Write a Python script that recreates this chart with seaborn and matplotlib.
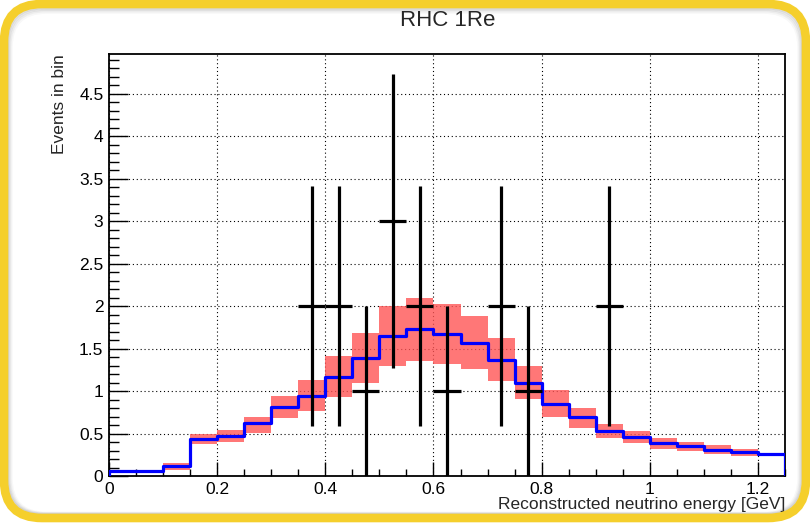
import numpy as np
import pandas as pd
import seaborn as sns
import matplotlib
matplotlib.use("Agg")
import matplotlib.pyplot as plt
from matplotlib.patches import FancyBboxPatch
from matplotlib.transforms import IdentityTransform
from matplotlib.ticker import MultipleLocator, FuncFormatter

# Binning: 25 bins of 0.05 GeV from 0 to 1.25 GeV
bin_edges = [round(0.05 * i, 3) for i in range(26)]
bin_centers = [round((a + b) / 2, 4) for a, b in zip(bin_edges[:-1], bin_edges[1:])]

# Predicted events per bin (blue histogram)
mc_pred = [0.055, 0.055, 0.12, 0.44, 0.47, 0.62, 0.81, 0.94, 1.17, 1.39,
           1.65, 1.73, 1.67, 1.57, 1.37, 1.10, 0.85, 0.69, 0.525, 0.46,
           0.385, 0.35, 0.31, 0.28, 0.255]
# Systematic uncertainty band (lower / upper edge per bin)
band_lo = [0.045, 0.045, 0.067, 0.38, 0.396, 0.51, 0.68, 0.765, 0.93, 1.09,
           1.29, 1.36, 1.32, 1.26, 1.12, 0.91, 0.69, 0.565, 0.447, 0.39,
           0.318, 0.294, 0.26, 0.235, 0.23]
band_hi = [0.065, 0.065, 0.153, 0.49, 0.545, 0.70, 0.94, 1.125, 1.41, 1.69,
           2.00, 2.10, 2.02, 1.88, 1.63, 1.29, 1.01, 0.80, 0.615, 0.53,
           0.443, 0.396, 0.36, 0.32, 0.275]

# Observed events
data_energy = [0.375, 0.425, 0.475, 0.525, 0.575, 0.625, 0.725, 0.775, 0.925]
data_counts = [2, 2, 1, 3, 2, 1, 2, 1, 2]

mc = pd.DataFrame({"energy": bin_centers, "pred": mc_pred,
                   "lo": band_lo, "hi": band_hi})
obs = pd.DataFrame({"energy": data_energy, "n": data_counts})
obs["err"] = np.sqrt(obs["n"])

sns.set_theme(style="white")
plt.rcParams["font.family"] = ["Liberation Sans", "DejaVu Sans"]

fig = plt.figure(figsize=(8.1, 5.24), dpi=100)
fig.patch.set_facecolor("white")
ax = fig.add_axes([109 / 810, 48 / 524, 676 / 810, 422 / 524])
ax.set_facecolor("white")

# Uncertainty band
ax.bar(mc["energy"], mc["hi"] - mc["lo"], bottom=mc["lo"], width=0.05,
       color="#FF5555", alpha=0.8, linewidth=0, zorder=2)

# Predicted spectrum as a step histogram
sns.histplot(data=mc, x="energy", weights="pred", bins=bin_edges,
             element="step", fill=False, color="#0000FF", linewidth=2.3,
             ax=ax, zorder=3)
ax.vlines([bin_edges[0], bin_edges[-1]], 0, [mc_pred[0], mc_pred[-1]],
          color="#0000FF", linewidth=2.3, zorder=3)

# Data with Poisson errors
ax.errorbar(obs["energy"], obs["n"], yerr=obs["err"], xerr=0.025,
            fmt="none", ecolor="black", elinewidth=2.3, capsize=0, zorder=4)

ax.set_xlim(0, 1.25)
ax.set_ylim(0, 4.97)
ax.xaxis.set_major_locator(MultipleLocator(0.2))
ax.xaxis.set_minor_locator(MultipleLocator(0.05))
ax.yaxis.set_major_locator(MultipleLocator(0.5))
ax.yaxis.set_minor_locator(MultipleLocator(0.1))
ax.xaxis.set_major_formatter(FuncFormatter(lambda v, p: f"{v:g}"))
ax.yaxis.set_major_formatter(FuncFormatter(lambda v, p: f"{v:g}"))

ax.tick_params(axis="both", which="both", direction="in", colors="black",
               labelsize=12.5, width=1.0, top=False, right=False,
               bottom=True, left=True)
ax.tick_params(axis="y", which="major", length=14, pad=4)
ax.tick_params(axis="y", which="minor", length=7.5)
ax.tick_params(axis="x", which="major", length=10, pad=4)
ax.tick_params(axis="x", which="minor", length=5)

ax.grid(True, which="major", color="black", linestyle=(0, (1, 2.5)),
        linewidth=0.8)
ax.set_axisbelow(True)
for s in ax.spines.values():
    s.set_visible(True)
    s.set_color("black")
    s.set_linewidth(1.3)

ax.set_xlabel("Reconstructed neutrino energy [GeV]", fontsize=12.5,
              loc="right", labelpad=0)
ax.set_ylabel("Events in bin", fontsize=12.5, loc="top", labelpad=9)
fig.text(448 / 810, 1 - 20 / 524, "RHC 1Re", ha="center", va="center",
         fontsize=16, family=["Liberation Sans Narrow", "Liberation Sans"])

# Rounded yellow frame with a soft grey shadow
for k, a in enumerate([0.10, 0.08, 0.06, 0.04]):
    off = 5 + 2 * k
    fig.patches.append(FancyBboxPatch(
        (4 + off * 0.6, 8 + off * 0.2), 802 - off * 1.2, 512 - off * 0.9,
        boxstyle="round,pad=0,rounding_size=36", transform=IdentityTransform(),
        facecolor="none", edgecolor=(0.3, 0.3, 0.3, a), linewidth=3))
fig.patches.append(FancyBboxPatch(
    (4, 6), 802, 514, boxstyle="round,pad=0,rounding_size=38",
    transform=IdentityTransform(), facecolor="none",
    edgecolor="#F5CF2C", linewidth=6.2))

fig.savefig("out.png", dpi=100)
